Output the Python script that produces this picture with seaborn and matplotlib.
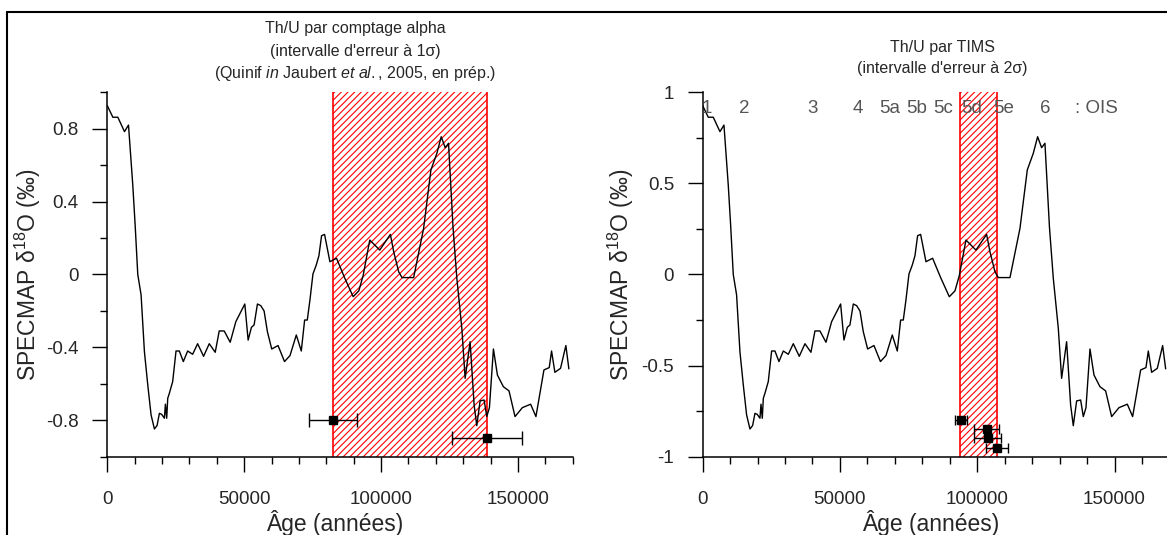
import matplotlib.pyplot as plt
import matplotlib.ticker as mticker
from matplotlib.lines import Line2D
import pandas as pd
import seaborn as sns

# courbe SPECMAP
age = [0, 2050, 3870, 6300, 7760, 9330, 10190, 11150, 12360, 13580,
       14800, 16010, 17230, 18200, 19050, 19900, 20870, 21240, 21720, 22090,
       22690, 23900, 25120, 26330, 27790, 29370, 31190, 33010, 35190, 37260,
       39440, 40900, 42720, 44910, 46970, 50250, 51460, 52670, 53640, 54860,
       56070, 57290, 58500, 60080, 62390, 64750, 66760, 69060, 70880, 72100,
       73070, 74040, 75140, 76350, 77320, 78290, 79380, 81330, 83750, 86670,
       89830, 91890, 93470, 95890, 99530, 103420, 104630, 106450, 107670, 111920,
       115560, 118230, 120410, 121990, 123450, 124660, 126300, 127700, 129520, 130730,
       132550, 134010, 134980, 136200, 137660, 138630, 139600, 141060, 142520, 144700,
       146760, 148950, 151620, 154650, 156590, 159510, 161450, 162300, 163510, 165580,
       167520, 168620]
d18o = [0.927, 0.863, 0.863, 0.784, 0.82, 0.49, 0.272, 0.0, -0.112, -0.424,
        -0.606, -0.771, -0.848, -0.829, -0.762, -0.768, -0.789, -0.712, -0.789, -0.68,
        -0.652, -0.588, -0.42, -0.42, -0.478, -0.42, -0.438, -0.38, -0.449, -0.38,
        -0.427, -0.31, -0.31, -0.372, -0.259, -0.162, -0.36, -0.29, -0.277, -0.162,
        -0.171, -0.2, -0.314, -0.409, -0.39, -0.478, -0.445, -0.332, -0.42, -0.25,
        -0.25, -0.14, 0.003, 0.052, 0.103, 0.213, 0.22, 0.07, 0.089, -0.017,
        -0.122, -0.09, -0.006, 0.189, 0.134, 0.22, 0.125, 0.015, -0.017, -0.017,
        0.253, 0.574, 0.665, 0.756, 0.696, 0.72, 0.26, -0.021, -0.295, -0.57,
        -0.369, -0.716, -0.83, -0.694, -0.689, -0.78, -0.731, -0.409, -0.552, -0.616,
        -0.639, -0.78, -0.731, -0.712, -0.78, -0.524, -0.511, -0.42, -0.537, -0.515,
        -0.39, -0.518]

# datations alpha
alpha_age = [82600, 138700]
alpha_val = [-0.8, -0.9]
alpha_err = [8800, 12900]
alpha_band = [82600, 138700]

# datations TIMS
tims_age = [94050, 103400, 103800, 107100]
tims_val = [-0.8, -0.85, -0.9, -0.95]
tims_err = [2300, 4400, 5000, 4000]
tims_band = [93800, 107300]

# stades isotopiques
ois_labels = ['1', '2', '3', '4', '5a', '5b', '5c', '5d', '5e', '6', ': OIS']
ois_pos = [1600, 15150, 39900, 56660, 67950, 77930, 87620, 97960, 109470, 124650, 143480]

sns.set_style('ticks')
plt.rcParams['font.family'] = ['Liberation Sans', 'DejaVu Sans']
plt.rcParams['mathtext.fontset'] = 'custom'
plt.rcParams['mathtext.rm'] = 'Liberation Sans'
plt.rcParams['mathtext.it'] = 'Liberation Sans:italic'
plt.rcParams['axes.unicode_minus'] = False
plt.rcParams['hatch.linewidth'] = 0.8

df = pd.DataFrame({'age': age, 'd18o': d18o})

fig = plt.figure(figsize=(11.67, 5.35), dpi=100)
ax1 = fig.add_axes([0.0919, 0.1464, 0.3988, 0.6811])
ax2 = fig.add_axes([0.6021, 0.1464, 0.4, 0.6811])


def habille(ax, band, p_age, p_val, p_err, cap, yticks, yminor, ylab_x):
    ax.axvspan(band[0], band[1], facecolor='none', edgecolor='red', lw=0,
               hatch='/////', zorder=1)
    for b in band:
        ax.axvline(b, color='red', lw=1.2, zorder=2)
    sns.lineplot(data=df, x='age', y='d18o', ax=ax, color='black', lw=1.0,
                 estimator=None, zorder=3)
    ax.errorbar(p_age, p_val, xerr=p_err, fmt='s', color='black', ms=6,
                capsize=cap, elinewidth=1, capthick=1, zorder=4)
    ax.set_xlim(0, 170000)
    ax.set_ylim(-1, 1)
    ax.set_xticks([0, 50000, 100000, 150000])
    ax.set_xticklabels(['0', '50000', '100000', '150000'])
    ax.xaxis.set_minor_locator(mticker.MultipleLocator(10000))
    ax.set_yticks(yticks)
    ax.set_yticklabels([('%g' % t) for t in yticks])
    ax.yaxis.set_minor_locator(mticker.FixedLocator(yminor))
    ax.tick_params(which='major', length=10.5, width=1, labelsize=13.5, color='black')
    ax.tick_params(axis='x', which='major', pad=14)
    ax.tick_params(axis='y', which='major', pad=10)
    ax.tick_params(which='minor', length=5, width=1, color='black')
    sns.despine(ax=ax)
    for s in ['left', 'bottom']:
        ax.spines[s].set_linewidth(1.1)
        ax.spines[s].set_color('black')
    ax.set_xlabel('Âge (années)', fontsize=16.5)
    ax.set_ylabel('SPECMAP δ$\\mathregular{^{18}}$O (‰)', fontsize=16.5)
    ax.xaxis.set_label_coords(0.489, -0.145)
    ax.yaxis.set_label_coords(ylab_x, 0.5)


habille(ax1, alpha_band, alpha_age, alpha_val, alpha_err, 5,
        [-0.8, -0.4, 0, 0.4, 0.8], [-1, -0.6, -0.2, 0.2, 0.6, 1.0], -0.138)
habille(ax2, tims_band, tims_age, tims_val, tims_err, 3.5,
        [-1, -0.5, 0, 0.5, 1], [-0.75, -0.25, 0.25, 0.75], -0.142)

for lab, x in zip(ois_labels, ois_pos):
    ax2.text(x, 0.885, lab, ha='center', va='baseline', fontsize=13.5,
             color='#555555', zorder=5)

# titres
fig.text(0.3042, 0.9383, 'Th/U par comptage alpha', ha='center', va='baseline', fontsize=11.5)
fig.text(0.3042, 0.8953, "(intervalle d'erreur à 1σ)", ha='center', va='baseline', fontsize=11.5)
fig.text(0.3042, 0.8542, '(Quinif $\\it{in}$ Jaubert $\\it{et\\ al.}$, 2005, en prép.)',
         ha='center', va='baseline', fontsize=11.5)
fig.text(0.8072, 0.9028, 'Th/U par TIMS', ha='center', va='baseline', fontsize=11.5)
fig.text(0.8072, 0.8636, "(intervalle d'erreur à 2σ)", ha='center', va='baseline', fontsize=11.5)

# cadre
fig.add_artist(Line2D([7 / 1167, 1.0], [1 - 12 / 535, 1 - 12 / 535],
                      transform=fig.transFigure, color='black', lw=1.5))
fig.add_artist(Line2D([7 / 1167, 7 / 1167], [0.0, 1 - 12 / 535],
                      transform=fig.transFigure, color='black', lw=1.5))

fig.savefig('out.png', dpi=100)
